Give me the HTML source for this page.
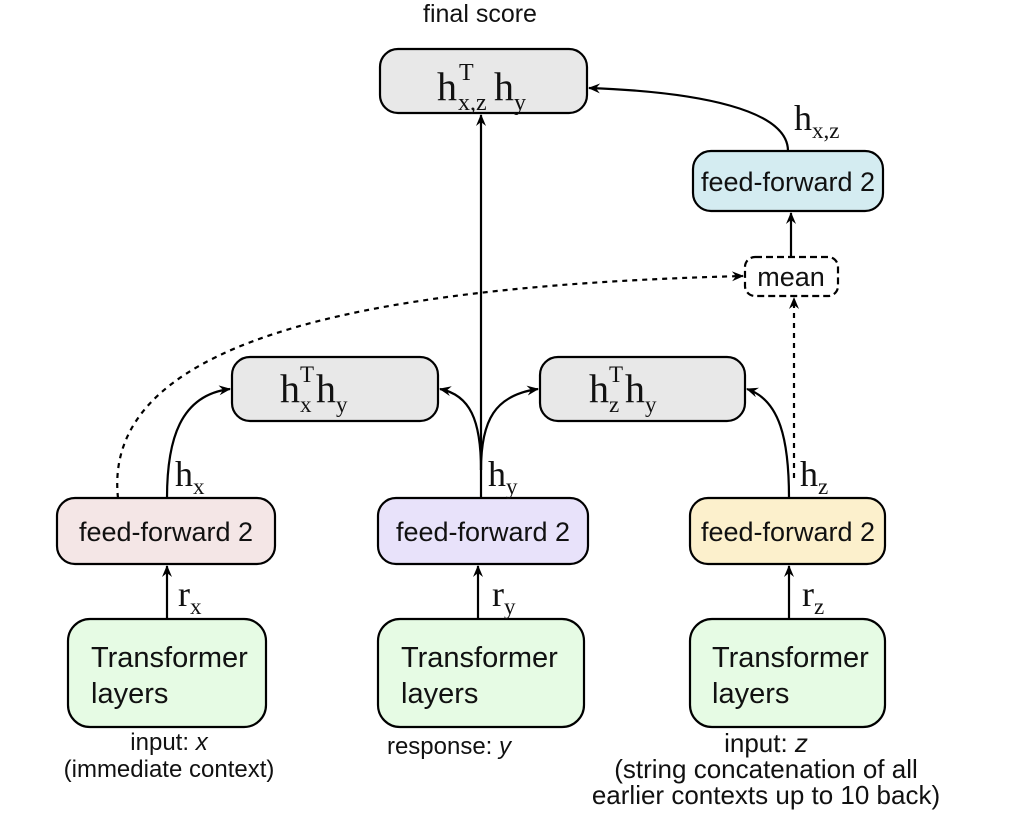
<!DOCTYPE html>
<html><head><meta charset="utf-8"><style>
html,body{margin:0;padding:0;background:#fff}
svg{display:block}
.s{font-family:"Liberation Sans",sans-serif;fill:#111}
.m{font-family:"Liberation Serif",serif;fill:#111}
</style></head><body>
<svg width="1032" height="830" viewBox="0 0 1032 830" xmlns="http://www.w3.org/2000/svg">
<defs>
<marker id="a" viewBox="0 0 12 10" refX="11" refY="5" markerWidth="12" markerHeight="10" markerUnits="userSpaceOnUse" orient="auto">
<path d="M0,0 L12,5 L0,10 L4,5 Z" fill="#000"/></marker>
</defs>
<g stroke="#000" stroke-width="2.2">
<rect x="380" y="49" width="207" height="64" rx="18" fill="#e8e8e8"/>
<rect x="693" y="151" width="190" height="60" rx="18" fill="#d4ecf1"/>
<rect x="745" y="257" width="93" height="39" rx="10" fill="#fff" stroke-dasharray="7,4"/>
<rect x="232" y="357" width="206" height="64" rx="18" fill="#e8e8e8"/>
<rect x="540" y="357" width="205" height="64" rx="18" fill="#e8e8e8"/>
<rect x="57" y="498" width="218" height="66" rx="18" fill="#f4e6e6"/>
<rect x="378" y="498" width="210" height="66" rx="18" fill="#e8e2fa"/>
<rect x="690" y="498" width="195" height="66" rx="18" fill="#fcf0cc"/>
<rect x="68" y="619" width="198" height="108" rx="22" fill="#e6fbe4"/>
<rect x="378" y="619" width="206" height="108" rx="22" fill="#e6fbe4"/>
<rect x="690" y="619" width="195" height="108" rx="22" fill="#e6fbe4"/>
</g>
<g stroke="#000" stroke-width="2.2" fill="none">
<line x1="167" y1="619" x2="167" y2="566" marker-end="url(#a)"/>
<line x1="478" y1="619" x2="478" y2="566" marker-end="url(#a)"/>
<line x1="789" y1="619" x2="789" y2="566" marker-end="url(#a)"/>
<path d="M167,498 C167,440 180,395 230,389" marker-end="url(#a)"/>
<line x1="481" y1="498" x2="481" y2="115" marker-end="url(#a)"/>
<path d="M481,470 C481,420 470,395 440,389" marker-end="url(#a)"/>
<path d="M481,470 C481,420 495,395 538,389" marker-end="url(#a)"/>
<path d="M789,498 C789,440 780,400 747,389" marker-end="url(#a)"/>
<line x1="791" y1="257" x2="791" y2="213" marker-end="url(#a)"/>
<path d="M788,151 C788,110 700,92 589,88" marker-end="url(#a)"/>
<path d="M118,498 C100,330 400,285 743,276" stroke-dasharray="5,5" marker-end="url(#a)"/>
<line x1="794" y1="478" x2="794" y2="298" stroke-dasharray="5,5" marker-end="url(#a)"/>
</g>
<g class="s" font-size="26" text-anchor="middle">
<text x="480" y="22" font-size="25">final score</text>
<text x="788" y="191" font-size="27">feed-forward 2</text>
<text x="791" y="286" font-size="27">mean</text>
<text x="166" y="541" font-size="27">feed-forward 2</text>
<text x="483" y="541" font-size="27">feed-forward 2</text>
<text x="788" y="541" font-size="27">feed-forward 2</text>
<text x="169" y="750" font-size="24">input: <tspan font-style="italic">x</tspan></text>
<text x="169" y="777" font-size="24">(immediate context)</text>
<text x="449" y="754" font-size="24">response: <tspan font-style="italic">y</tspan></text>
<text x="766" y="752">input: <tspan font-style="italic">z</tspan></text>
<text x="766" y="778">(string concatenation of all</text>
<text x="766" y="804">earlier contexts up to 10 back)</text>
</g>
<g class="s" font-size="29">
<text x="91" y="667">Transformer</text><text x="91" y="703">layers</text>
<text x="401" y="667">Transformer</text><text x="401" y="703">layers</text>
<text x="712" y="667">Transformer</text><text x="712" y="703">layers</text>
</g>
<g class="m">
<text x="437" y="100" font-size="40">h</text><text x="459" y="80" font-size="24">T</text><text x="458" y="110" font-size="24">x,z</text><text x="494" y="100" font-size="40">h</text><text x="514" y="110" font-size="24">y</text>
<text x="280" y="402" font-size="40">h</text><text x="300" y="382" font-size="23">T</text><text x="300" y="412" font-size="23">x</text><text x="316" y="402" font-size="40">h</text><text x="336" y="412" font-size="23">y</text>
<text x="589" y="402" font-size="40">h</text><text x="609" y="382" font-size="23">T</text><text x="609" y="412" font-size="23">z</text><text x="625" y="402" font-size="40">h</text><text x="645" y="412" font-size="23">y</text>
<text x="794" y="130" font-size="36">h<tspan font-size="23" dy="8">x,z</tspan></text>
<text x="175" y="486" font-size="36">h<tspan font-size="23" dy="8">x</tspan></text>
<text x="488" y="486" font-size="36">h<tspan font-size="23" dy="8">y</tspan></text>
<text x="800" y="486" font-size="36">h<tspan font-size="23" dy="8">z</tspan></text>
<text x="178" y="606" font-size="36">r<tspan font-size="23" dy="8">x</tspan></text>
<text x="492" y="606" font-size="36">r<tspan font-size="23" dy="8">y</tspan></text>
<text x="802" y="606" font-size="36">r<tspan font-size="23" dy="8">z</tspan></text>
</g>
</svg>
</body></html>
